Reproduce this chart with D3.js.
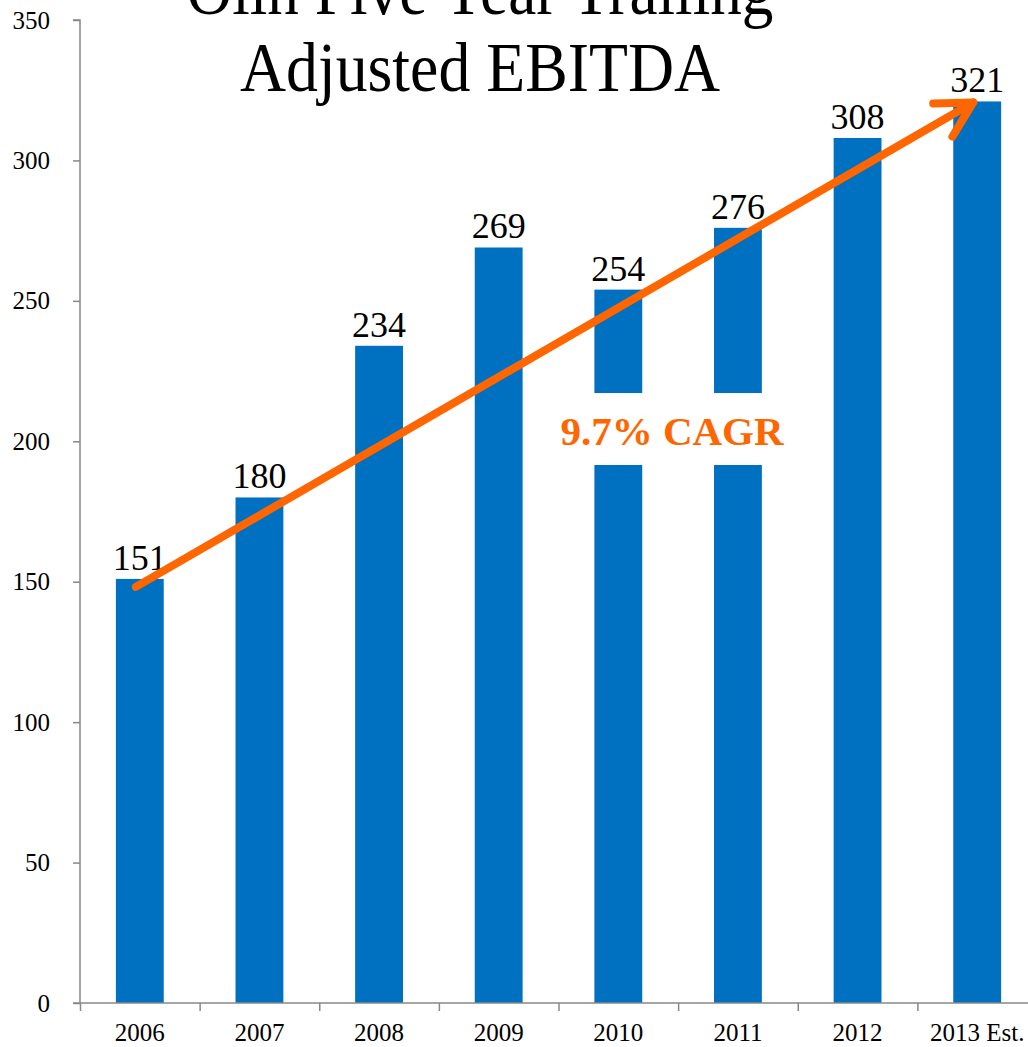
<!DOCTYPE html>
<html>
<head>
<meta charset="utf-8">
<script src="https://cdn.jsdelivr.net/npm/d3@7"></script>
<style>
  body { margin: 0; background: #fff; }
  svg { display: block; }
  svg text { font-family: "Liberation Serif", "Times New Roman", serif; }
</style>
</head>
<body>
<div id="chart"></div>
<script>
var years = ["2006", "2007", "2008", "2009", "2010", "2011", "2012", "2013 Est."];
var ebitda = [151, 180, 234, 269, 254, 276, 308, 321];
var yTicks = [0, 50, 100, 150, 200, 250, 300, 350];
var titleLines = ["Olin Five Year Trailing", "Adjusted EBITDA"];
var cagrLabel = "9.7% CAGR";

var svgWidth = 1028;
var svgHeight = 1047;
var serif = "Liberation Serif";

var svg = d3.select("#chart")
  .append("svg")
  .attr("width", svgWidth)
  .attr("height", svgHeight);

var x = d3.scaleBand()
  .domain(years)
  .range([80, 1037])
  .paddingInner(0.6)
  .paddingOuter(0.3);

// tick marks sit on the category boundaries
var xEdge = d3.scaleLinear()
  .domain([0, years.length])
  .range([80, 1037]);

var y = d3.scaleLinear()
  .domain([0, 350])
  .range([1003, 20]);

// bars
svg.selectAll("rect.bar")
  .data(years)
  .enter()
  .append("rect")
  .attr("class", "bar")
  .attr("x", d => x(d))
  .attr("y", (d, i) => y(ebitda[i]))
  .attr("width", x.bandwidth())
  .attr("height", (d, i) => y(0) - y(ebitda[i]))
  .attr("fill", "#0070C0");

// value labels
svg.selectAll("text.val")
  .data(years)
  .enter()
  .append("text")
  .attr("class", "val")
  .attr("x", d => x(d) + x.bandwidth() / 2)
  .attr("y", (d, i) => y(ebitda[i]) - 9)
  .attr("text-anchor", "middle")
  .attr("font-family", serif)
  .attr("font-size", 36)
  .attr("fill", "#000")
  .text((d, i) => ebitda[i]);

// y axis
var yAxis = svg.append("g")
  .attr("transform", "translate(80,0)")
  .call(d3.axisLeft(y).tickValues(yTicks).tickSize(7).tickPadding(23));
yAxis.selectAll("text").attr("font-size", 25).attr("font-family", serif).attr("fill", "#000");
yAxis.selectAll("line, path").attr("stroke", "#888").attr("stroke-width", 1.5);
yAxis.select("path").attr("d", "M-7," + y(350) + "H0V" + y(0));

// x axis: boundary ticks
var xAxis = svg.append("g")
  .attr("transform", "translate(0," + y(0) + ")")
  .call(d3.axisBottom(xEdge).tickValues(d3.range(years.length + 1)).tickFormat("").tickSize(8));
xAxis.selectAll("line, path").attr("stroke", "#888").attr("stroke-width", 1.5);
xAxis.select("path").attr("d", "M73,0H1037");

// x axis labels
var xLabels = svg.append("g")
  .attr("transform", "translate(0," + y(0) + ")")
  .call(d3.axisBottom(x).tickSize(0).tickPadding(20));
xLabels.select("path").remove();
xLabels.selectAll("text").attr("font-size", 25).attr("font-family", serif).attr("fill", "#000");

// title
svg.selectAll("text.title")
  .data(titleLines)
  .enter()
  .append("text")
  .attr("class", "title")
  .attr("x", 480)
  .attr("y", (d, i) => 14 + i * 77)
  .attr("text-anchor", "middle")
  .attr("font-family", serif)
  .attr("font-size", 70)
  .attr("fill", "#000")
  .attr("textLength", (d, i) => i == 0 ? 587 : 480)
  .attr("lengthAdjust", "spacingAndGlyphs")
  .text(d => d);

// trend arrow
var x0 = x(years[0]) + x.bandwidth() / 2 - 4;
var y0 = y(ebitda[0]) + 8;
var x1 = x(years[years.length - 1]) + x.bandwidth() / 2 - 4;
var y1 = y(ebitda[ebitda.length - 1]) + 1;

var ang = Math.atan2(y1 - y0, x1 - x0);
var headLen = 40;
var spread = 0.5;

svg.append("line")
  .attr("x1", x0).attr("y1", y0)
  .attr("x2", x1).attr("y2", y1)
  .attr("stroke", "#FF6600")
  .attr("stroke-width", 8)
  .attr("stroke-linecap", "round");

svg.append("path")
  .attr("d", "M" + (x1 - headLen * Math.cos(ang - spread)) + "," + (y1 - headLen * Math.sin(ang - spread)) +
    "L" + x1 + "," + y1 +
    "L" + (x1 - headLen * Math.cos(ang + spread)) + "," + (y1 - headLen * Math.sin(ang + spread)))
  .attr("fill", "none")
  .attr("stroke", "#FF6600")
  .attr("stroke-width", 8)
  .attr("stroke-linecap", "round")
  .attr("stroke-linejoin", "round");

// CAGR label on white box
svg.append("rect")
  .attr("x", 550)
  .attr("y", 393)
  .attr("width", 250)
  .attr("height", 72)
  .attr("fill", "#fff");

svg.append("text")
  .attr("x", 672)
  .attr("y", 445)
  .attr("text-anchor", "middle")
  .attr("font-family", serif)
  .attr("font-size", 41)
  .attr("font-weight", "bold")
  .attr("fill", "#FF6600")
  .text(cagrLabel);
</script>
</body>
</html>
